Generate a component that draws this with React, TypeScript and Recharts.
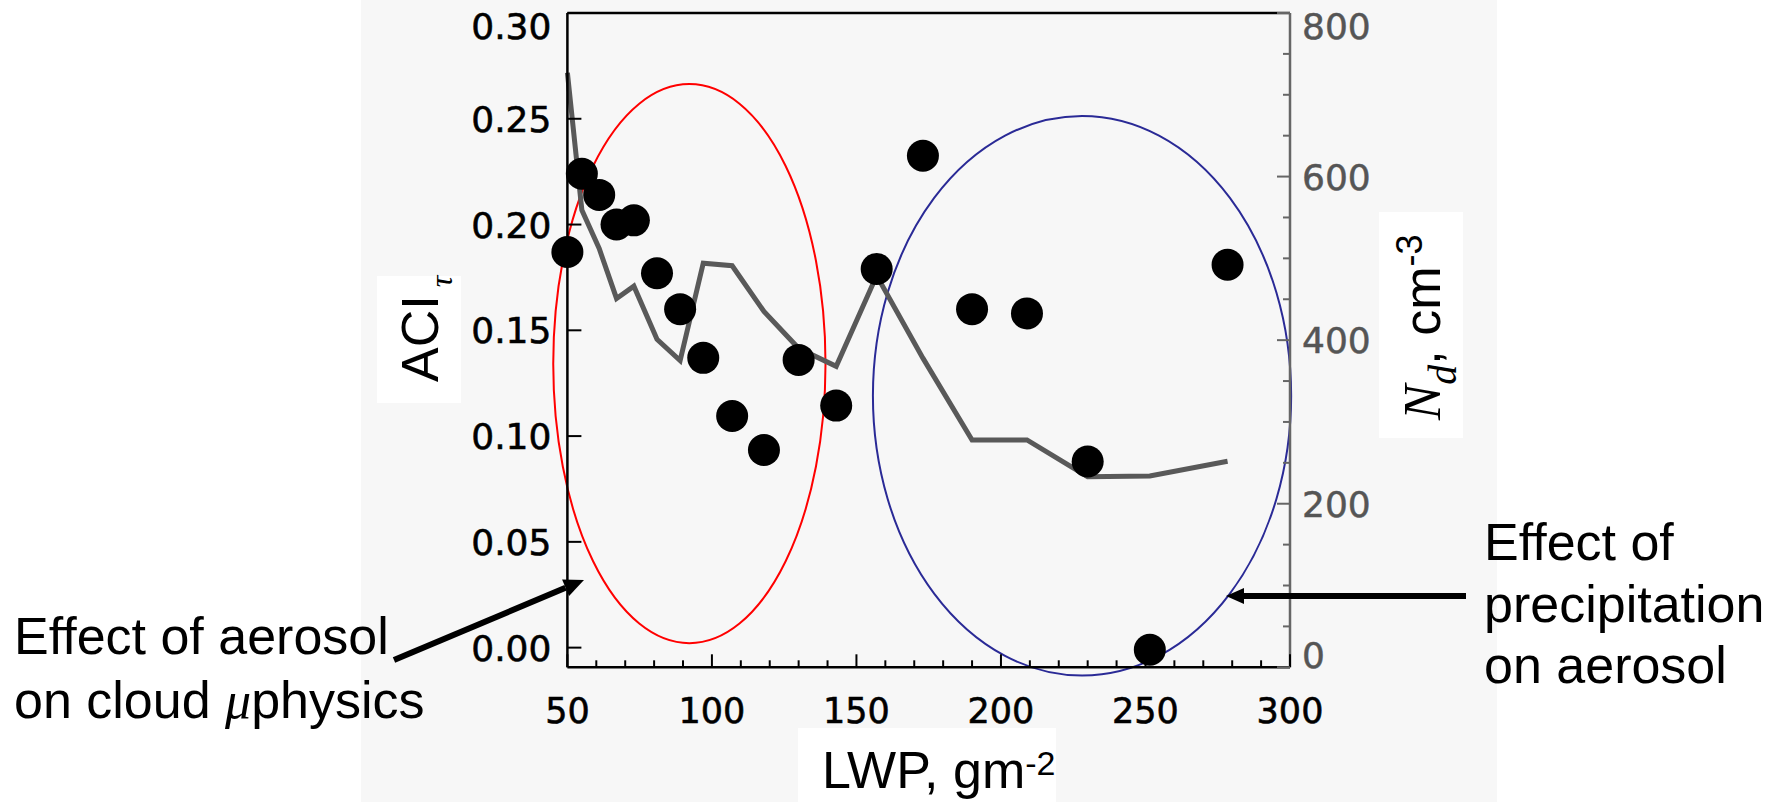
import React from 'react';
import { ComposedChart, Scatter, Line, XAxis, YAxis, ReferenceArea } from 'recharts';

// LWP bins (g m^-2)
const lwp = [50, 55, 61, 67, 73, 81, 89, 97, 107, 118, 130, 143, 157, 173, 190, 209, 230, 251.5, 278.4];
// ACI_tau (left axis)
const aciValues = [0.187, 0.224, 0.214, 0.2, 0.202, 0.177, 0.16, 0.137, 0.1095, 0.0934, 0.136, 0.1144, 0.179, 0.2325, 0.16, 0.158, 0.088, -0.001, 0.181];
// N_d, cm^-3 (right axis)
const ndValues = [727, 559, 512, 451, 466, 401, 375, 494, 491, 435, 390, 368, 479, 378, 278, 278, 233, 234, 252];

const xTicks = [50, 60, 70, 80, 90, 100, 110, 120, 130, 140, 150, 160, 170, 180, 190, 200, 210, 220, 230, 240, 250, 260, 270, 280, 290, 300];
const aciTicks = [0, 0.05, 0.1, 0.15, 0.2, 0.25, 0.3];
const ndTicks = [0, 50, 100, 150, 200, 250, 300, 350, 400, 450, 500, 550, 600, 650, 700, 750, 800];

// Highlight ellipses, given as bounding boxes in data units
const ellipseBoxes = [
  { x1: 45.1, x2: 139.3, y1: 0.0021, y2: 0.2664, color: '#ff0000' },
  { x1: 155.7, x2: 300.4, y1: -0.0132, y2: 0.2513, color: '#2a2a96' },
];

const scatterData = lwp.map((x, i) => ({ lwp: x, aci: aciValues[i] }));
const lineData = lwp.map((x, i) => ({ lwp: x, nd: ndValues[i] }));

const TICK_FONT = '"DejaVu Sans", sans-serif';
const SANS = '"Liberation Sans", Arial, sans-serif';
const SERIF = '"Liberation Serif", "Times New Roman", serif';

const PLOT_TOP = 13;
const PLOT_BOTTOM = 667.3;
const PLOT_LEFT = 567.4;
const PLOT_RIGHT = 1290;

function clampY(y: number) {
  return Math.min(Math.max(y, PLOT_TOP + 13), PLOT_BOTTOM - 12);
}

function BottomTick(props: any) {
  const { x, y, payload } = props;
  const v = payload.value;
  const major = v % 50 === 0;
  return (
    <g>
      <line x1={x} x2={x} y1={y} y2={y - (major ? 13 : 7)} stroke="#000" strokeWidth={2} />
      {major && (
        <text x={x} y={y + 56} textAnchor="middle" fontSize={35} fontFamily={TICK_FONT} fill="#000" stroke="#000" strokeWidth={0.6}>
          {v}
        </text>
      )}
    </g>
  );
}

function TopTick(props: any) {
  const { x, y, payload } = props;
  const v = payload.value;
  const major = v % 50 === 0;
  return <line x1={x} x2={x} y1={y} y2={y + (major ? 12 : 7)} stroke="#000" strokeWidth={2} />;
}

function LeftTick(props: any) {
  const { x, y, payload } = props;
  const v = payload.value;
  return (
    <g>
      <line x1={x} x2={x + 14} y1={y} y2={y} stroke="#000" strokeWidth={2} />
      <text x={x - 16} y={clampY(y) + 13} textAnchor="end" fontSize={36} fontFamily={TICK_FONT} fill="#000" stroke="#000" strokeWidth={0.6}>
        {v.toFixed(2)}
      </text>
    </g>
  );
}

function RightTick(props: any) {
  const { x, y, payload } = props;
  const v = payload.value;
  const major = v % 200 === 0;
  return (
    <g>
      <line x1={x} x2={x - (major ? 13 : 7)} y1={y} y2={y} stroke="#666" strokeWidth={2} />
      {major && (
        <text x={x + 12} y={clampY(y) + 13} textAnchor="start" fontSize={36} fontFamily={TICK_FONT} fill="#555" stroke="#555" strokeWidth={0.5}>
          {v}
        </text>
      )}
    </g>
  );
}

function Dot(props: any) {
  const { cx, cy } = props;
  return <circle cx={cx} cy={cy} r={16} fill="#000" />;
}

function arrowPoly(x1: number, y1: number, x2: number, y2: number, len: number, half: number) {
  const dx = x2 - x1;
  const dy = y2 - y1;
  const L = Math.sqrt(dx * dx + dy * dy);
  const ux = dx / L;
  const uy = dy / L;
  const bx = x2 - ux * len;
  const by = y2 - uy * len;
  const px = -uy;
  const py = ux;
  return {
    base: [bx, by],
    points: `${x2},${y2} ${bx + px * half},${by + py * half} ${bx - px * half},${by - py * half}`,
  };
}

export default function App() {
  const leftArrow = arrowPoly(394, 660, 584, 580, 20, 9);
  const rightArrow = arrowPoly(1466, 596, 1226, 596, 18, 8);
  return (
    <div style={{ position: 'absolute', left: 0, top: 0, width: 1785, height: 802, background: '#ffffff', overflow: 'hidden' }}>
      <div style={{ position: 'absolute', left: 361, top: 0, width: 1136, height: 802, background: '#f7f7f7' }} />
      <div style={{ position: 'absolute', left: 377, top: 276, width: 84, height: 127, background: '#ffffff' }} />
      <div style={{ position: 'absolute', left: 1379, top: 212, width: 84, height: 226, background: '#ffffff' }} />
      <div style={{ position: 'absolute', left: 798, top: 728, width: 258, height: 74, background: '#ffffff' }} />
      <div style={{ position: 'absolute', left: 0, top: 0 }}>
        <ComposedChart
          width={1785}
          height={802}
          margin={{ top: PLOT_TOP - 1, left: PLOT_LEFT - 1, right: 1785 - PLOT_RIGHT - 1, bottom: 802 - PLOT_BOTTOM - 1 }}
        >
          <XAxis
            xAxisId="bottom"
            type="number"
            dataKey="lwp"
            domain={[50, 300]}
            ticks={xTicks}
            interval={0}
            height={1}
            tickSize={0}
            tickMargin={0}
            tickLine={false}
            axisLine={{ stroke: '#000', strokeWidth: 2.5 }}
            tick={<BottomTick />}
          />
          <XAxis
            xAxisId="top"
            orientation="top"
            type="number"
            dataKey="lwp"
            domain={[50, 300]}
            ticks={xTicks}
            interval={0}
            height={1}
            tickSize={0}
            tickMargin={0}
            tickLine={false}
            axisLine={{ stroke: '#000', strokeWidth: 2.5 }}
            tick={<TopTick />}
          />
          <YAxis
            yAxisId="left"
            type="number"
            dataKey="aci"
            domain={[-0.0093, 0.3]}
            ticks={aciTicks}
            interval={0}
            width={1}
            tickSize={0}
            tickMargin={0}
            tickLine={false}
            axisLine={{ stroke: '#000', strokeWidth: 2.5 }}
            tick={<LeftTick />}
          />
          <YAxis
            yAxisId="right"
            orientation="right"
            type="number"
            dataKey="nd"
            domain={[0, 800]}
            ticks={ndTicks}
            interval={0}
            width={1}
            tickSize={0}
            tickMargin={0}
            tickLine={false}
            axisLine={{ stroke: '#666', strokeWidth: 2.5 }}
            tick={<RightTick />}
          />
          {ellipseBoxes.map((e, i) => (
            <ReferenceArea
              key={i}
              xAxisId="bottom"
              yAxisId="left"
              x1={e.x1}
              x2={e.x2}
              y1={e.y1}
              y2={e.y2}
              ifOverflow="visible"
              shape={(p: any) => (
                <ellipse
                  cx={p.x + p.width / 2}
                  cy={p.y + p.height / 2}
                  rx={Math.abs(p.width) / 2}
                  ry={Math.abs(p.height) / 2}
                  fill="none"
                  stroke={e.color}
                  strokeWidth={2}
                />
              )}
            />
          ))}
          <Scatter
            data={scatterData}
            xAxisId="bottom"
            yAxisId="left"
            dataKey="aci"
            shape={<Dot />}
            isAnimationActive={false}
          />
          <Line
            data={lineData}
            xAxisId="bottom"
            yAxisId="right"
            dataKey="nd"
            type="linear"
            stroke="#595959"
            strokeWidth={5}
            dot={false}
            activeDot={false}
            isAnimationActive={false}
          />
        </ComposedChart>
      </div>
      <svg
        width={1785}
        height={802}
        style={{ position: 'absolute', left: 0, top: 0, pointerEvents: 'none' }}
      >
        {/* Axis titles */}
        <text transform="translate(438, 382) rotate(-90)" fontFamily={SANS} fontSize={52} fill="#000">
          ACI
          <tspan fontFamily={SERIF} fontStyle="italic" fontSize={32} dx={8} dy={14}>τ</tspan>
        </text>
        <text transform="translate(1440, 420) rotate(-90)" fontFamily={SANS} fontSize={52} fill="#000">
          <tspan fontFamily={SERIF} fontStyle="italic" fontSize={53}>N</tspan>
          <tspan fontFamily={SERIF} fontStyle="italic" fontSize={40} dy={16}>d</tspan>
          <tspan dy={-16}>, cm</tspan>
          <tspan fontSize={36} dy={-18}>-3</tspan>
        </text>
        <text x={822} y={788} fontFamily={SANS} fontSize={52} fill="#000">
          LWP, gm<tspan fontSize={34} dy={-13}>-2</tspan>
        </text>

        {/* Annotations */}
        <text x={14} y={654} fontFamily={SANS} fontSize={52} fill="#000">Effect of aerosol</text>
        <text x={14} y={718} fontFamily={SANS} fontSize={52} fill="#000">
          on cloud <tspan fontFamily={SERIF} fontStyle="italic">μ</tspan>physics
        </text>
        <text x={1484} y={560} fontFamily={SANS} fontSize={52} fill="#000">Effect of</text>
        <text x={1484} y={622} fontFamily={SANS} fontSize={52} fill="#000">precipitation</text>
        <text x={1484} y={683} fontFamily={SANS} fontSize={52} fill="#000">on aerosol</text>

        {/* Arrows */}
        <line x1={394} y1={660} x2={leftArrow.base[0]} y2={leftArrow.base[1]} stroke="#000" strokeWidth={6} />
        <polygon points={leftArrow.points} fill="#000" />
        <line x1={1466} y1={596} x2={rightArrow.base[0]} y2={rightArrow.base[1]} stroke="#000" strokeWidth={6} />
        <polygon points={rightArrow.points} fill="#000" />
      </svg>
    </div>
  );
}
